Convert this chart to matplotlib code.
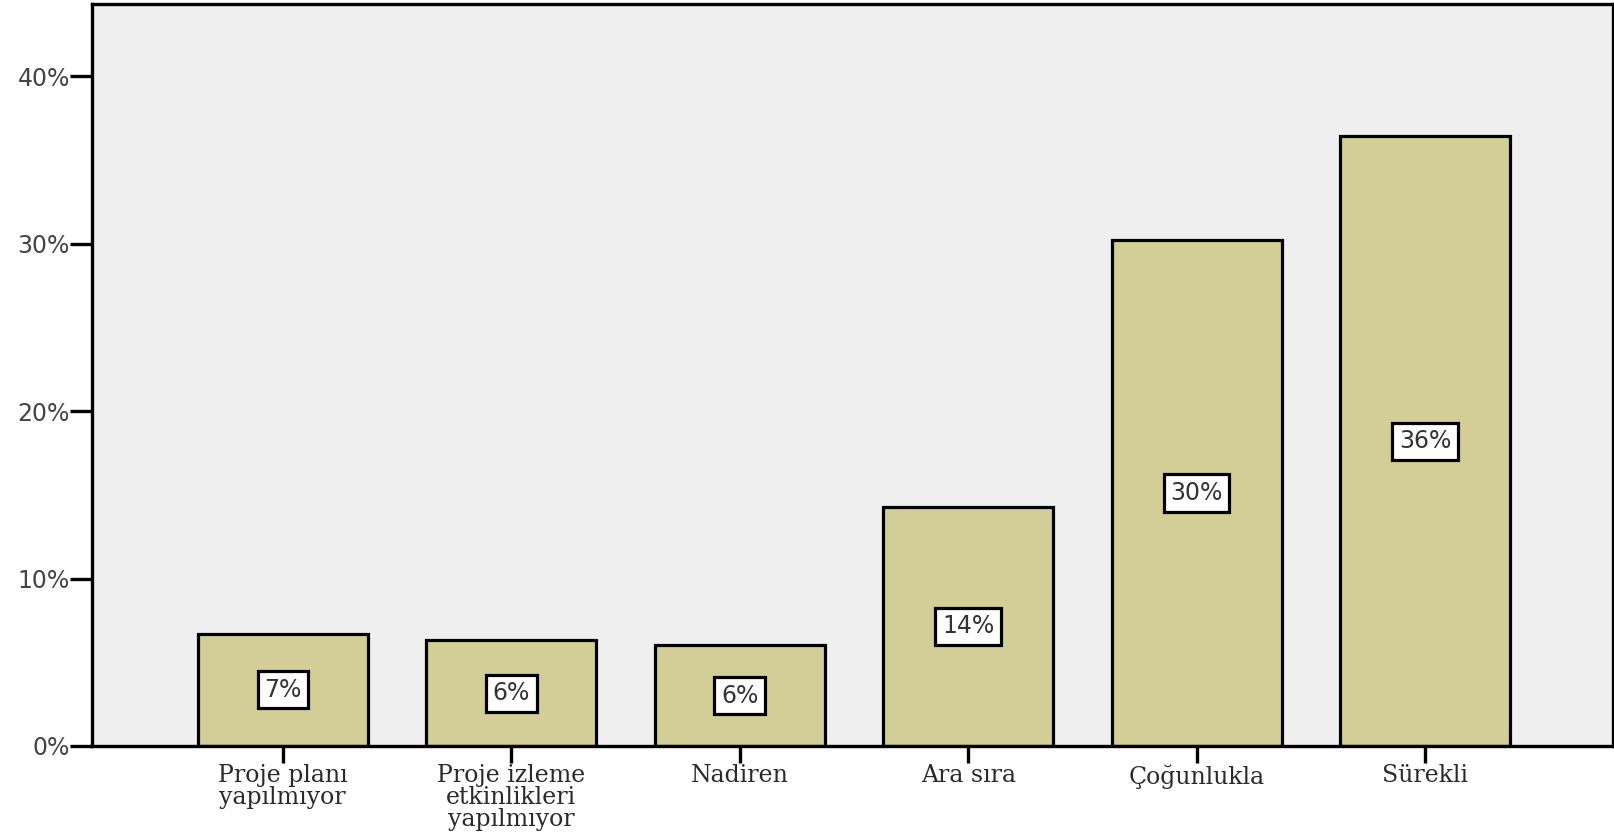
import matplotlib
matplotlib.use("Agg")
import matplotlib.pyplot as plt
from matplotlib.ticker import FuncFormatter

categories = ["Proje planı\nyapılmıyor",
              "Proje izleme\netkinlikleri\nyapılmıyor",
              "Nadiren",
              "Ara sıra",
              "Çoğunlukla",
              "Sürekli"]
percents = [6.7, 6.3, 6.0, 14.3, 30.2, 36.4]
bar_labels = ["7%", "6%", "6%", "14%", "30%", "36%"]
yticks = [0, 10, 20, 30, 40]

fig = plt.figure(figsize=(16.15, 8.33), dpi=100)
ax = fig.add_axes([0.057, 0.1045, 0.9418, 0.8905])
ax.set_facecolor("#efefef")

x = range(len(categories))
ax.bar(x, percents, width=0.745, color="#d3ce98", edgecolor="black",
       linewidth=2.3, zorder=2)

for i in x:
    ax.text(i, percents[i] / 2, bar_labels[i], ha="center", va="center",
            fontsize=17, color="#333333", family="DejaVu Sans", zorder=3,
            bbox=dict(boxstyle="square,pad=0.28", facecolor="white",
                      edgecolor="black", linewidth=2.3))

ax.set_xlim(-0.835, 5.823)
ax.set_ylim(0, 44.3)
ax.set_yticks(yticks)
ax.yaxis.set_major_formatter(FuncFormatter(lambda v, p: "%d%%" % v))
ax.set_xticks(list(x))
ax.set_xticklabels(categories, family="DejaVu Serif", fontsize=17,
                   color="#2a2a2a", linespacing=0.95)

for s in ax.spines.values():
    s.set_linewidth(2.4)
ax.tick_params(axis="y", length=16, width=2.4, pad=0, labelsize=17,
               labelcolor="#444444")
ax.tick_params(axis="x", length=12, width=2.4, pad=1)

fig.savefig("out.png", dpi=100)
